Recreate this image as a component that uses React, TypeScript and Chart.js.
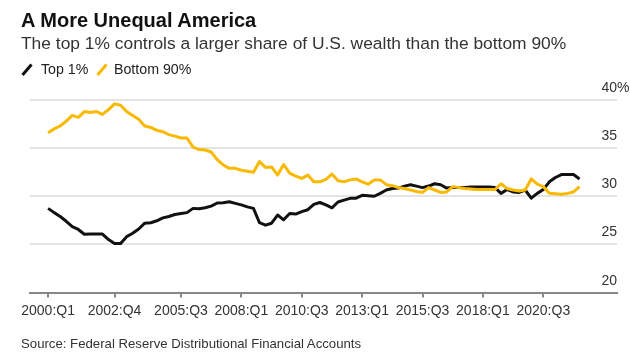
import React, { useEffect, useRef } from 'react';
import { Chart, registerables } from 'chart.js';

Chart.register(...registerables);

// ---- Data ----
const startYear = 2000;
const endYear = 2022;
const endQuarter = 1;
const quarters: string[] = [];
for (let y = startYear; y <= endYear; y++) {
  for (let q = 1; q <= 4; q++) {
    if (y === endYear && q > endQuarter) break;
    quarters.push(`${y}:Q${q}`);
  }
}

const xTickLabels = ['2000:Q1', '2002:Q4', '2005:Q3', '2008:Q1', '2010:Q3', '2013:Q1', '2015:Q3', '2018:Q1', '2020:Q3'];
const yTicks = [20, 25, 30, 35, 40];

const seriesNames = ['Top 1%', 'Bottom 90%'];

const top1 = [
  28.74, 28.3, 27.9, 27.4, 26.85, 26.55, 26.05, 26.07, 26.07, 26.07,
  25.5, 25.1, 25.1, 25.8, 26.15, 26.6, 27.2, 27.25, 27.45, 27.75,
  27.9, 28.1, 28.2, 28.3, 28.74, 28.7, 28.8, 28.98, 29.3, 29.33,
  29.43, 29.26, 29.1, 28.9, 28.74, 27.25, 27.0, 27.2, 28.05, 27.55,
  28.2, 28.15, 28.4, 28.6, 29.15, 29.35, 29.1, 28.8, 29.4, 29.6,
  29.78, 29.8, 30.1, 30.05, 30.0, 30.3, 30.65, 30.8, 30.85, 31.05,
  31.2, 31.05, 30.9, 31.06, 31.3, 31.2, 30.85, 30.9, 30.9, 30.9,
  30.95, 30.95, 30.95, 30.95, 30.9, 30.3, 30.7, 30.45, 30.4, 30.65,
  29.8, 30.3, 30.7, 31.5, 31.95, 32.25, 32.27, 32.25, 31.8,
];

const bottom90 = [
  36.6, 37.0, 37.3, 37.8, 38.4, 38.2, 38.8, 38.7, 38.8, 38.5,
  39.0, 39.6, 39.45, 38.8, 38.4, 38.0, 37.3, 37.15, 36.85, 36.7,
  36.4, 36.25, 36.05, 36.05, 35.1, 34.85, 34.8, 34.6, 33.8, 33.25,
  32.9, 32.9, 32.7, 32.6, 32.5, 33.6, 33.0, 33.05, 32.2, 33.3,
  32.4, 32.1, 31.85, 32.2, 31.5, 31.5, 31.75, 32.3, 31.6, 31.5,
  31.7, 31.8, 31.5, 31.25, 31.7, 31.7, 31.2, 31.1, 30.9, 30.8,
  30.65, 30.5, 30.4, 30.9, 30.65, 30.4, 30.45, 31.0, 30.9, 30.8,
  30.75, 30.7, 30.7, 30.7, 30.7, 31.3, 30.8, 30.65, 30.55, 30.65,
  31.8, 31.25, 31.0, 30.3, 30.25, 30.2, 30.3, 30.45, 31.0,
];

const BLACK = '#111111';
const YELLOW = '#F9B900';
const FONT = '"Liberation Sans", Arial, Helvetica, sans-serif';

export default function App() {
  const ref = useRef<HTMLCanvasElement>(null);

  useEffect(() => {
    const canvas = ref.current;
    if (!canvas) return;
    const tickValues = xTickLabels.map((l) => quarters.indexOf(l));
    const yMax = yTicks[yTicks.length - 1];

    const yLabelPlugin = {
      id: 'yLabelsAbove',
      afterDraw(chart: any) {
        const { ctx, chartArea, scales } = chart;
        const ys = scales.y;
        ctx.save();
        ctx.font = `14px ${FONT}`;
        ctx.fillStyle = '#333';
        ctx.textBaseline = 'alphabetic';
        ys.ticks.forEach((t: any) => {
          const py = ys.getPixelForValue(t.value);
          ctx.textAlign = 'right';
          ctx.fillText(String(t.value), chartArea.right, py - 8);
          if (t.value === yMax) {
            ctx.textAlign = 'left';
            ctx.fillText('%', chartArea.right, py - 8);
          }
        });
        ctx.restore();
      },
    };

    const chart = new Chart(canvas, {
      type: 'line',
      data: {
        datasets: [
          {
            label: seriesNames[1],
            data: bottom90.map((v, i) => ({ x: i, y: v })),
            borderColor: YELLOW,
            borderWidth: 3,
            pointRadius: 0,
            borderJoinStyle: 'round',
            tension: 0,
            order: 0,
          },
          {
            label: seriesNames[0],
            data: top1.map((v, i) => ({ x: i, y: v })),
            borderColor: BLACK,
            borderWidth: 3,
            pointRadius: 0,
            borderJoinStyle: 'round',
            tension: 0,
            order: 1,
          },
        ],
      },
      options: {
        animation: false,
        responsive: false,
        layout: { padding: { left: 30, right: 13, top: 100, bottom: 0 } },
        plugins: {
          legend: { display: false },
          tooltip: { enabled: false },
        },
        scales: {
          x: {
            type: 'linear',
            min: -3,
            max: 94.2,
            afterBuildTicks: (s: any) => {
              s.ticks = tickValues.map((v) => ({ value: v }));
            },
            afterFit: (s: any) => {
              s.height = 69.5;
            },
            grid: {
              drawOnChartArea: false,
              drawTicks: true,
              tickLength: 5,
              color: '#888',
              lineWidth: 2,
            },
            border: { display: true, color: '#888', width: 2 },
            ticks: {
              autoSkip: false,
              maxRotation: 0,
              padding: 5,
              color: '#333',
              font: { family: FONT, size: 14 },
              callback: (v: any) => quarters[v] ?? '',
            },
          },
          y: {
            position: 'right',
            min: yTicks[0],
            max: yMax,
            afterBuildTicks: (s: any) => {
              s.ticks = yTicks.map((v) => ({ value: v }));
            },
            afterFit: (s: any) => {
              s.width = 0;
            },
            grid: {
              color: (c: any) => (c.tick && c.tick.value === yTicks[0] ? 'rgba(0,0,0,0)' : '#e4e4e4'),
              lineWidth: 2,
              drawTicks: false,
            },
            border: { display: false },
            ticks: { display: false },
          },
        },
      },
      plugins: [yLabelPlugin],
    } as any);

    return () => chart.destroy();
  }, []);

  const abs = (left: number, top: number, size: number, extra: React.CSSProperties = {}): React.CSSProperties => ({
    position: 'absolute',
    left,
    top,
    fontSize: size,
    lineHeight: `${size}px`,
    fontFamily: FONT,
    whiteSpace: 'nowrap',
    ...extra,
  });

  const legendColors = [BLACK, YELLOW];
  const legendIconX = [21, 96];
  const legendTextX = [41, 114];

  return (
    <div style={{ position: 'absolute', left: 0, top: 0, width: 630, height: 362, background: '#fff', overflow: 'hidden' }}>
      <canvas ref={ref} width={630} height={362} style={{ position: 'absolute', left: 0, top: 0, width: 630, height: 362 }} />
      <div style={abs(21, 10, 20, { fontWeight: 700, color: '#111' })}>A More Unequal America</div>
      <div style={abs(21, 35, 17.4, { color: '#333' })}>The top 1% controls a larger share of U.S. wealth than the bottom 90%</div>
      {seriesNames.map((name, i) => (
        <React.Fragment key={name}>
          <svg style={{ position: 'absolute', left: legendIconX[i], top: 63 }} width={12} height={13}>
            <line x1={1.5} y1={12} x2={10.5} y2={1.5} stroke={legendColors[i]} strokeWidth={3} />
          </svg>
          <div style={abs(legendTextX[i], 62, 14.2, { color: '#222' })}>{name}</div>
        </React.Fragment>
      ))}
      <div style={abs(21, 337, 13.2, { color: '#333' })}>Source: Federal Reserve Distributional Financial Accounts</div>
    </div>
  );
}
